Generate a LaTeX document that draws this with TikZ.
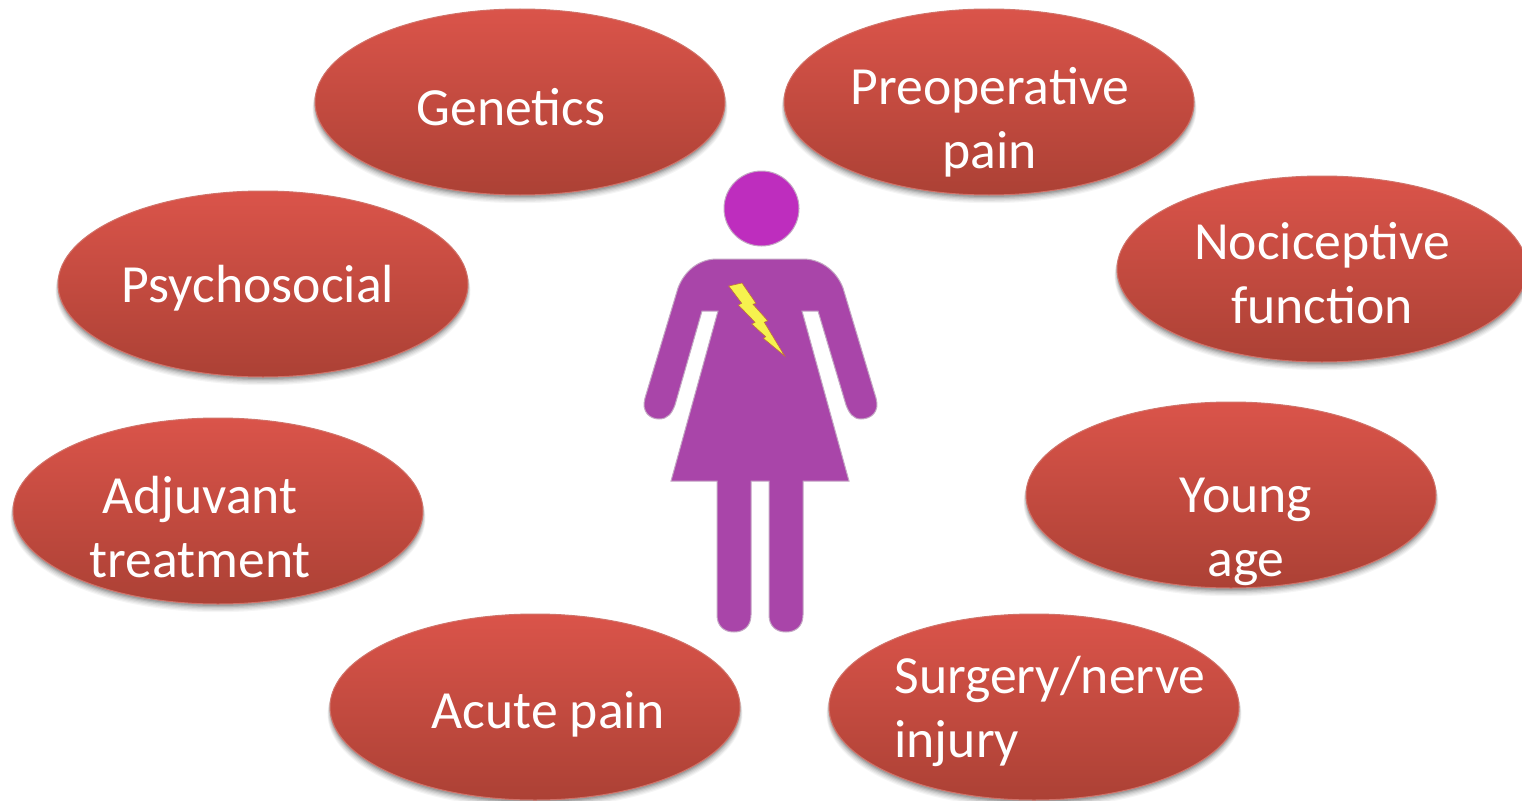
\documentclass[tikz,border=0pt]{standalone}
\usepackage{fontspec}
\setmainfont{Carlito}
\usetikzlibrary{
  shapes.geometric,
  shadows,
  calc
}
\definecolor{blobtop}{HTML}{DA544A}
\definecolor{blobbottom}{HTML}{AC4135}
\definecolor{blobline}{HTML}{D0736A}
\definecolor{figbody}{HTML}{A945A9}
\definecolor{fighead}{HTML}{BE2DBE}
\definecolor{figline}{HTML}{C4A6C4}
\definecolor{boltfill}{HTML}{F6F24E}
\definecolor{boltline}{HTML}{C0703C}

\begin{document}
\begin{tikzpicture}[
  x=1pt, y=-1pt,
  blob/.style={ellipse, minimum width=410pt, minimum height=186pt, inner sep=0pt,
    top color=blobtop, bottom color=blobbottom, draw=blobline, line width=1pt,
    drop shadow={shadow xshift=0pt, shadow yshift=-7pt, shadow scale=1.012, opacity=.04, fill=black},
    drop shadow={shadow xshift=0pt, shadow yshift=-6pt, shadow scale=1.01, opacity=.05, fill=black},
    drop shadow={shadow xshift=0pt, shadow yshift=-5pt, shadow scale=1.008, opacity=.06, fill=black},
    drop shadow={shadow xshift=0pt, shadow yshift=-4pt, shadow scale=1.005, opacity=.08, fill=black},
    drop shadow={shadow xshift=0pt, shadow yshift=-3pt, shadow scale=1.002, opacity=.10, fill=black},
    drop shadow={shadow xshift=0pt, shadow yshift=-2pt, shadow scale=1, opacity=.12, fill=black}},
  blobtext/.style={font=\fontsize{53.7}{64}\selectfont, text=white, align=center, inner sep=0pt},
  figure/.style={fill=figbody, draw=figline, line width=1pt}
]
  \useasboundingbox (0,0) rectangle (1522,800);

  % Ellipses
  \node[blob] (genetics) at (520,102) {};
  \node[blob] (preop) at (989,102) {};
  \node[blob] (psycho) at (263,284) {};
  \node[blob] (noci) at (1322,269) {};
  \node[blob] (adjuvant) at (218,511) {};
  \node[blob] (young) at (1231,495) {};
  \node[blob] (acute) at (535,707) {};
  \node[blob] (surgery) at (1034,707) {};

  % Labels
  \node[blobtext] (geneticstext) at (511,107) {Genetics};
  \node[blobtext] (preoptext) at (990,122) {Preoperative\\pain};
  \node[blobtext] (psychotext) at (258,288) {Psychosocial};
  \node[blobtext] (nocitext) at (1322,273) {Nociceptive\\function};
  \node[blobtext] (adjuvanttext) at (200,527) {Adjuvant\\treatment};
  \node[blobtext] (youngtext) at (1246,532) {Young\\age};
  \node[blobtext] (acutetext) at (548,714) {Acute pain};
  \node[blobtext, align=left] (surgerytext) at (1050,711) {Surgery/nerve\\injury};

  % Woman
  \node[circle, minimum size=75pt, inner sep=0pt, fill=fighead, draw=figline, line width=1pt]
    (head) at (761.5,208.5) {};
  \draw[figure] (717,259) -- (803,259)
    .. controls (822,259) and (837,272) .. (843,288)
    -- (876,398) .. controls (880,412) and (871,419) .. (861,419)
    .. controls (853,419) and (849,413) .. (846,405)
    -- (818,311) -- (802,311) -- (849,481) -- (803,481) -- (803,615)
    .. controls (803,626) and (796,632) .. (786,632)
    .. controls (776,632) and (769,626) .. (769,615)
    -- (769,481) -- (751,481) -- (751,615)
    .. controls (751,626) and (744,632) .. (734,632)
    .. controls (724,632) and (717,626) .. (717,615)
    -- (717,481) -- (671,481) -- (718,311) -- (702,311) -- (675,405)
    .. controls (672,413) and (668,419) .. (659,419)
    .. controls (650,419) and (641,412) .. (645,398)
    -- (678,288) .. controls (684,272) and (698,259) .. (717,259) -- cycle;

  % Bolt
  \draw[fill=boltfill, draw=boltline, line width=.6pt, line join=miter]
    (728.7,286) -- (742,283) -- (756,303.3) -- (753,304.3) -- (767.7,320.7) -- (764.3,322.3)
    -- (784.7,356) -- (763.3,338.3) -- (765.7,336.7) -- (751.7,324) -- (755,322.3)
    -- (738.3,305) -- (741.7,303.3) -- cycle;
\end{tikzpicture}
\end{document}
